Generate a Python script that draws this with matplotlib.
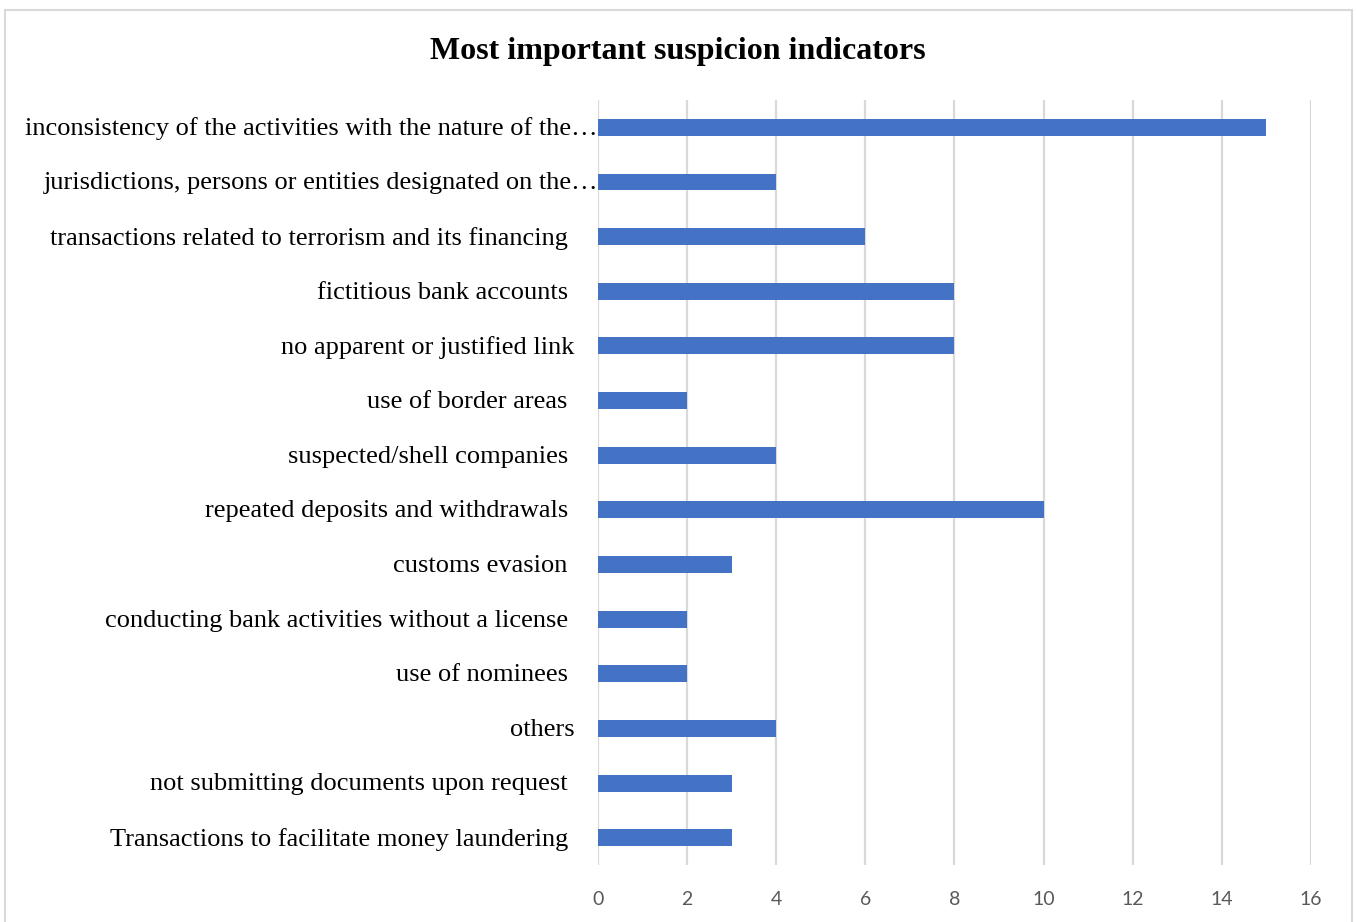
import matplotlib
matplotlib.use('Agg')
from matplotlib import pyplot as plt
from matplotlib.patches import Rectangle
import numpy as np

# indicators listed top to bottom, with the count of mentions for each
indicators = [
	'inconsistency of the activities with the nature of the\u2026',
	'jurisdictions, persons or entities designated on the\u2026',
	'transactions related to terrorism and its financing ',
	'fictitious bank accounts ',
	'no apparent or justified link',
	'use of border areas ',
	'suspected/shell companies ',
	'repeated deposits and withdrawals ',
	'customs evasion ',
	'conducting bank activities without a license ',
	'use of nominees ',
	'others',
	'not submitting documents upon request ',
	'Transactions to facilitate money laundering ',
]
counts = [15, 4, 6, 8, 8, 2, 4, 10, 3, 2, 2, 4, 3, 3]
xticks = [0, 2, 4, 6, 8, 10, 12, 14, 16]

barColour = '#4472C4'
gridColour = '#D9D9D9'

fig = plt.figure(figsize=(13.56, 9.22), dpi=100)
ax = fig.add_axes([0.441, 0.0618, 0.5257, 0.8297])

ypos = np.arange(len(indicators))
ax.barh(ypos, counts, height=0.31, color=barColour, zorder=3)
ax.set_ylim(len(indicators) - 0.5, -0.5)
ax.set_xlim(0, 16)

ax.set_xticks(xticks)
ax.set_xticklabels([str(t) for t in xticks], family='Lato', fontsize=14, color='#595959')
ax.tick_params(axis='x', length=0, pad=19)
ax.set_yticks([])
ax.grid(axis='x', color=gridColour, linewidth=1.6, zorder=0)
for s in ax.spines.values():
	s.set_visible(False)

# category labels: the truncated ones run right up to the axis
for y, lab in zip(ypos, indicators):
	pad = 0 if lab.endswith('\u2026') else -17
	ax.annotate(lab, xy=(0, y), xycoords=('axes fraction', 'data'),
		xytext=(pad, -1), textcoords='offset points',
		ha='right', va='center', family='Liberation Serif', fontsize=19)

fig.text(0.5, 0.944, 'Most important suspicion indicators', ha='center', va='center',
	family='Liberation Serif', fontweight='bold', fontsize=23)

fig.patches.append(Rectangle((5 / 1356, -0.02), 1347 / 1356, 1.02 - 10 / 922,
	transform=fig.transFigure, fill=False, edgecolor=gridColour, linewidth=1.5))

plt.savefig('out.png')
